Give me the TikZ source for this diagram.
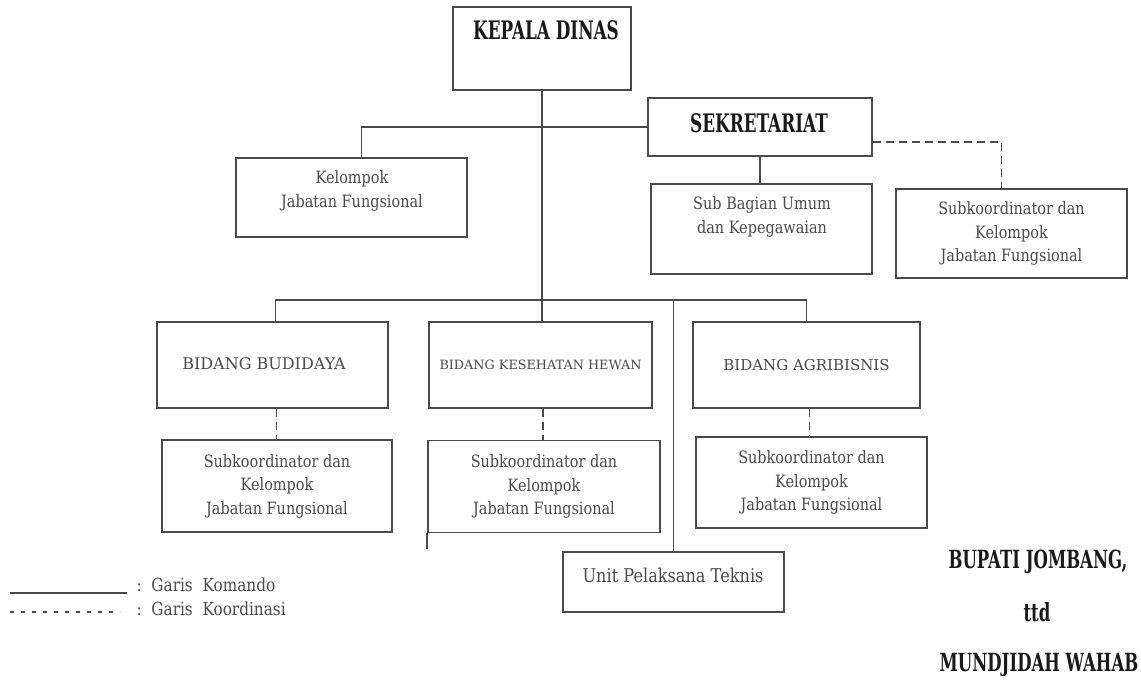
\documentclass[tikz,border=0pt]{standalone}
\usepackage{fontspec}
\setmainfont{DejaVu Serif}
\newfontfamily\boxfont[FakeStretch=0.85]{DejaVu Serif}
\newfontfamily\titlefont{DejaVu Serif}
\newfontfamily\headfont[FakeStretch=0.66]{DejaVu Serif Bold}
\usetikzlibrary{positioning}
\definecolor{linegray}{HTML}{4A4A4A}
\definecolor{textgray}{HTML}{4A4A4A}

\begin{document}
\begin{tikzpicture}[x=1pt,y=-1pt,
    box/.style={draw=linegray, line width=1.7pt, inner sep=0pt},
    txt/.style={align=center, text=textgray, font=\boxfont\fontsize{17}{23.5}\selectfont},
    title/.style={text=textgray, font=\titlefont\fontsize{16}{18}\selectfont},
    head/.style={text=black!90, font=\headfont\fontsize{25.5}{28}\selectfont},
    sign/.style={text=black!90, font=\headfont\fontsize{25}{28}\selectfont},
    cmd/.style={draw=linegray, line width=1.7pt},
    coord/.style={draw=linegray, line width=1.7pt, dash pattern=on 8pt off 5pt}]
  \useasboundingbox (0,0) rectangle (1141,683);

  % Top level
  \node[box, minimum width=178, minimum height=83] (kadis) at (542,48.5) {};
  \node[head] (kadisT) at (546,30) {KEPALA DINAS};
  \node[box, minimum width=224, minimum height=58] (sekre) at (760,127) {};
  \node[head] (sekreT) at (759,123) {SEKRETARIAT};

  % Second level
  \node[box, minimum width=231, minimum height=79] (kjf) at (351.5,197.5) {};
  \node[txt] (kjfT) at (352,191) {Kelompok\\Jabatan Fungsional};
  \node[box, minimum width=221, minimum height=90] (subag) at (761.5,229) {};
  \node[txt] (subagT) at (762,217) {Sub Bagian Umum\\dan Kepegawaian};
  \node[box, minimum width=231, minimum height=89, txt] (skjf) at (1011.5,233.5)
    {Subkoordinator dan\\Kelompok\\Jabatan Fungsional};

  % Bidang
  \node[box, minimum width=231, minimum height=86] (bud) at (272.5,365) {};
  \node[title] (budT) at (264,364) {BIDANG BUDIDAYA};
  \node[box, minimum width=223, minimum height=86, title,
        font=\titlefont\fontsize{12.8}{16}\selectfont] (kes) at (540.5,365) {BIDANG KESEHATAN HEWAN};
  \node[box, minimum width=227, minimum height=86, title,
        font=\titlefont\fontsize{15}{18}\selectfont] (agr) at (806.5,365) {BIDANG AGRIBISNIS};

  % Subkoordinator
  \node[box, minimum width=230, minimum height=92, txt] (skA) at (277,486)
    {Subkoordinator dan\\Kelompok\\Jabatan Fungsional};
  \node[box, minimum width=232, minimum height=92, txt] (skB) at (544,486.5)
    {Subkoordinator dan\\Kelompok\\Jabatan Fungsional};
  \node[box, minimum width=231, minimum height=91, txt] (skC) at (811.5,482.5)
    {Subkoordinator dan\\Kelompok\\Jabatan Fungsional};

  % UPT
  \node[box, minimum width=221, minimum height=60] (upt) at (673.5,582) {};
  \node[txt, font=\boxfont\fontsize{19}{23}\selectfont] (uptT) at (673,575) {Unit Pelaksana Teknis};

  % Garis komando
  \coordinate (bus) at (541,300);
  \draw[cmd] (kadis.south) -- (kadis.south |- kes.north);
  \draw[cmd] (sekre.west) -| ([xshift=10]kjf.north);
  \draw[cmd] (sekre.south) -- (sekre.south |- subag.north);
  \draw[cmd] ([xshift=3]bud.north) |- (bus) -| (agr.north);
  \draw[cmd] (upt.north) -- (upt.north |- bus);
  \coordinate (stub) at ([yshift=-16pt]skB.south west);
  \draw[cmd] (skB.south west) -- (stub);

  % Garis koordinasi
  \draw[coord] ([yshift=-15pt]sekre.east) -| ([xshift=-10pt]skjf.north);
  \draw[coord] ([xshift=4pt]bud.south) -- ([xshift=4pt]bud.south |- skA.north);
  \draw[coord] ([xshift=-1pt]skB.north |- kes.south) -- ([xshift=-1pt]skB.north);
  \draw[coord] ([xshift=-2pt]skC.north |- agr.south) -- ([xshift=-2pt]skC.north);

  % Keterangan
  \coordinate (komA) at (10,593);
  \coordinate (komB) at (127,593);
  \coordinate (korA) at (10,612);
  \coordinate (korB) at (120,612);
  \draw[draw=linegray, line width=1.2pt] (komA) -- (komB);
  \draw[draw=linegray, line width=1.2pt, dash pattern=on 4pt off 7pt] (korA) -- (korB);
  \node[txt, anchor=west, font=\boxfont\fontsize{18}{22}\selectfont] (komT) at (133,585) {:\ \ Garis\ \ Komando};
  \node[txt, anchor=west, font=\boxfont\fontsize{18}{22}\selectfont] (korT) at (133,609) {:\ \ Garis\ \ Koordinasi};

  % Tanda tangan
  \node[sign] (bupati) at (1038,562) {BUPATI JOMBANG,};
  \node[sign] (ttd) at (1037,612) {ttd};
  \node[sign] (nama) at (1039,665) {MUNDJIDAH WAHAB};
\end{tikzpicture}
\end{document}
